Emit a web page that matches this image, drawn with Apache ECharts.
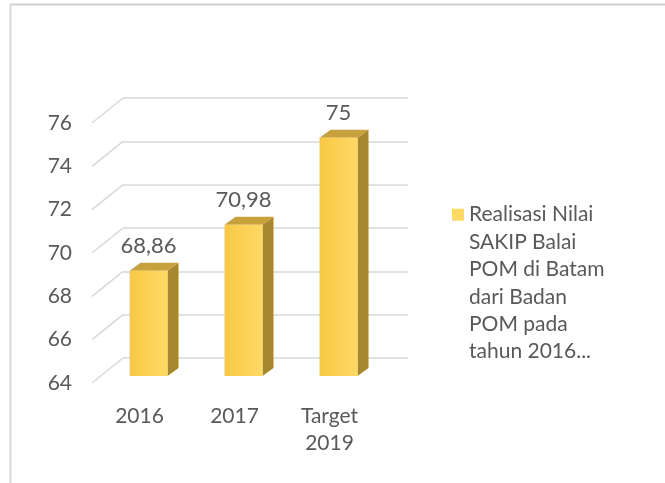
<!DOCTYPE html>
<html>
<head>
<meta charset="utf-8">
<script src="https://cdn.jsdelivr.net/npm/echarts@6/dist/echarts.min.js"></script>
<style>
html, body { margin: 0; padding: 0; background: #fff; }
#main { width: 665px; height: 483px; }
</style>
</head>
<body>
<div id="main"></div>
<script>
// data
var categories = ['2016', '2017', 'Target\n2019'];
var nilai = [68.86, 70.98, 75];
var yTicks = [64, 66, 68, 70, 72, 74, 76];
var seriesName = 'Realisasi Nilai\nSAKIP Balai\nPOM di Batam\ndari Badan\nPOM pada\ntahun 2016...';

var textColor = '#595959';
var gridColor = '#d9d9d9';
var fontName = 'Lato';
// depth offset of the back wall (px)
var depthX = 31, depthY = 25;

var chart = echarts.init(document.getElementById('main'));

function renderBar(params, api) {
	var i = api.value(0);
	var v = api.value(1);
	var base = api.coord([i, yTicks[0]]);
	var top = api.coord([i, v]);
	// bars sit a bit behind the front plane
	var cx = base[0] + 9;
	var by = base[1] - 7;
	var ty = top[1] - 7;
	var w = 38, sx = 11, sy = 8;
	var l = cx - w / 2, r = cx + w / 2;
	return {
		type: 'group',
		children: [
			{
				type: 'polygon',
				shape: { points: [[r, by], [r + sx, by - sy], [r + sx, ty - sy], [r, ty]] },
				style: { fill: '#a5872f' }
			},
			{
				type: 'polygon',
				shape: { points: [[l, ty], [r, ty], [r + sx, ty - sy], [l + sx, ty - sy]] },
				style: { fill: '#c7a13c' }
			},
			{
				type: 'rect',
				shape: { x: l, y: ty, width: w, height: by - ty },
				style: {
					fill: new echarts.graphic.LinearGradient(0, 0, 1, 0, [
						{ offset: 0, color: '#f8c843' },
						{ offset: 1, color: '#ffd966' }
					])
				}
			},
			{
				type: 'text',
				style: {
					x: cx, y: ty - 25,
					text: String(v).replace('.', ','),
					align: 'center', verticalAlign: 'middle',
					fill: textColor, font: '22px ' + fontName
				}
			}
		]
	};
}

function renderDiag(params, api) {
	var p = api.coord([0, api.value(0)]);
	var x0 = params.coordSys.x;
	return {
		type: 'line',
		shape: { x1: x0, y1: p[1], x2: x0 + depthX, y2: p[1] - depthY },
		style: { stroke: gridColor, lineWidth: 1.5 }
	};
}

var option = {
	backgroundColor: '#fff',
	animation: false,
	textStyle: { fontFamily: fontName },
	grid: [
		{ left: 92, top: 123, width: 285, height: 260 },
		{ left: 92 + depthX, top: 123 - depthY, width: 285, height: 260 }
	],
	xAxis: [
		{
			gridIndex: 0, type: 'category', data: categories,
			axisLine: { show: false }, axisTick: { show: false },
			axisLabel: { color: textColor, fontSize: 21, lineHeight: 27, margin: 20, fontFamily: fontName }
		},
		{
			gridIndex: 1, type: 'category', data: categories,
			axisLine: { show: false }, axisTick: { show: false }, axisLabel: { show: false }
		}
	],
	yAxis: [
		{
			gridIndex: 0, type: 'value', min: 64, max: 76, interval: 2,
			axisLine: { show: false }, axisTick: { show: false }, splitLine: { show: false },
			axisLabel: { color: textColor, fontSize: 21, margin: 20, fontFamily: fontName }
		},
		{
			gridIndex: 1, type: 'value', min: 64, max: 76, interval: 2,
			axisLine: { show: false }, axisTick: { show: false }, axisLabel: { show: false },
			splitLine: { show: true, lineStyle: { color: gridColor, width: 1.5 } }
		}
	],
	legend: {
		data: [seriesName],
		left: 452, top: 64,
		padding: 0,
		itemWidth: 12, itemHeight: 12,
		icon: 'rect',
		itemStyle: { color: '#ffd966' },
		// blank lines above keep the marker level with the first line
		formatter: function (name) { return '\n\n\n\n\n' + name; },
		textStyle: { color: textColor, fontSize: 21, lineHeight: 27.4, fontFamily: fontName }
	},
	graphic: [
		{ type: 'line', shape: { x1: 10, y1: 4.5, x2: 665, y2: 4.5 }, style: { stroke: '#d0d0d0', lineWidth: 2 } },
		{ type: 'line', shape: { x1: 10.5, y1: 4, x2: 10.5, y2: 483 }, style: { stroke: '#d9d9d9', lineWidth: 2 } }
	],
	series: [
		{
			name: 'diag', type: 'custom', xAxisIndex: 0, yAxisIndex: 0,
			data: yTicks.map(function (t) { return [t]; }),
			encode: { y: 0 },
			renderItem: renderDiag, silent: true
		},
		{
			name: seriesName, type: 'custom', xAxisIndex: 0, yAxisIndex: 0,
			itemStyle: { color: '#ffd966' },
			data: nilai.map(function (v, i) { return [i, v]; }),
			encode: { x: 0, y: 1 },
			renderItem: renderBar
		}
	]
};
chart.setOption(option);
</script>
</body>
</html>
